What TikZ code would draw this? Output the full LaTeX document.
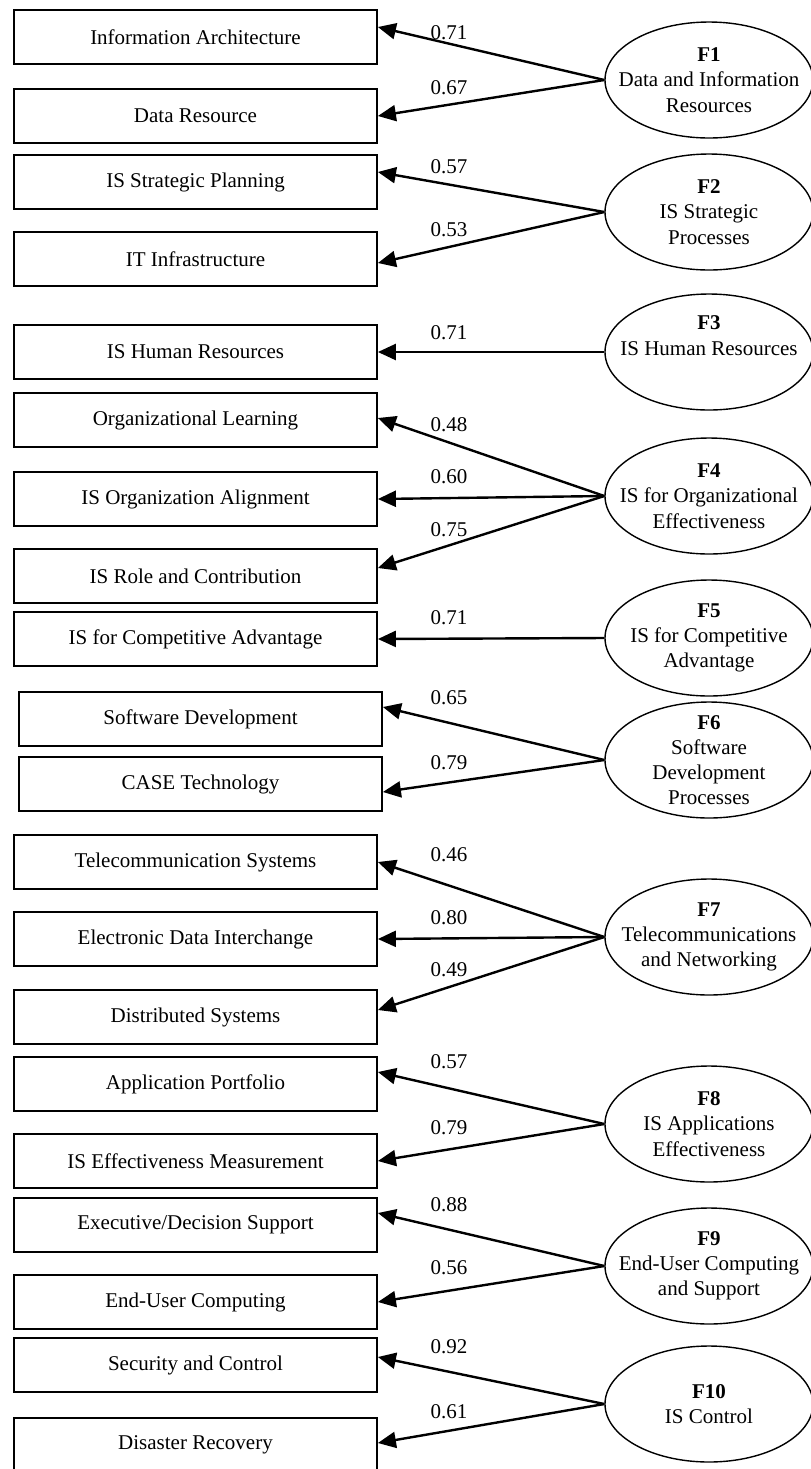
\documentclass[tikz,border=0pt]{standalone}
\usepackage{fontspec}
\setmainfont{Liberation Serif}
\usetikzlibrary{arrows.meta,shapes.geometric}

\tikzset{
  every node/.style={font=\fontsize{10.5}{12.6}\selectfont},
  indicator/.style={draw,line width=0.9pt,minimum width=181.5pt,minimum height=27pt,inner sep=0pt},
  factor/.style={draw,ellipse,line width=0.7pt,minimum width=104pt,minimum height=58pt,
    inner xsep=-12pt,inner ysep=-10pt,align=center},
  loading/.style={inner sep=0pt},
  loadarrow/.style={-{Triangle[length=9pt,width=8pt]},line width=1.2pt}
}

\begin{document}
\begin{tikzpicture}[x=0.5pt,y=-0.5pt]
    \useasboundingbox (0,0) rectangle (810,1469);
    % observed variables
    \node[indicator] (ia)  at (195.5,37)   {Information Architecture};
    \node[indicator] (dr)  at (195.5,116)  {Data Resource};
    \node[indicator] (isp) at (195.5,182)  {IS Strategic Planning};
    \node[indicator] (iti) at (195.5,259)  {IT Infrastructure};
    \node[indicator] (ihr) at (195.5,352)  {IS Human Resources};
    \node[indicator] (ol)  at (195.5,420)  {Organizational Learning};
    \node[indicator] (ioa) at (195.5,499)  {IS Organization Alignment};
    \node[indicator] (irc) at (195.5,576)  {IS Role and Contribution};
    \node[indicator] (ica) at (195.5,639)  {IS for Competitive Advantage};
    \node[indicator] (sd)  at (200.5,719)  {Software Development};
    \node[indicator] (ct)  at (200.5,784)  {CASE Technology};
    \node[indicator] (ts)  at (195.5,862)  {Telecommunication Systems};
    \node[indicator] (edi) at (195.5,939)  {Electronic Data Interchange};
    \node[indicator] (ds)  at (195.5,1017) {Distributed Systems};
    \node[indicator] (ap)  at (195.5,1084) {Application Portfolio};
    \node[indicator] (iem) at (195.5,1161) {IS Effectiveness Measurement};
    \node[indicator] (eds) at (195.5,1225) {Executive/Decision Support};
    \node[indicator] (euc) at (195.5,1302) {End-User Computing};
    \node[indicator] (sc)  at (195.5,1365) {Security and Control};
    \node[indicator] (dre) at (195.5,1445) {Disaster Recovery};

    % factors
    \node[factor] (F1)  at (709,80)   {\textbf{F1}\\Data and Information\\Resources};
    \node[factor] (F2)  at (709,212)  {\textbf{F2}\\IS Strategic\\Processes};
    \node[factor] (F3)  at (709,352)  {\textbf{F3}\\IS Human Resources\\ \strut};
    \node[factor] (F4)  at (709,496)  {\textbf{F4}\\IS for Organizational\\Effectiveness};
    \node[factor] (F5)  at (709,638)  {\textbf{F5}\\IS for Competitive\\Advantage};
    \node[factor] (F6)  at (709,760)  {\textbf{F6}\\Software\\Development\\Processes};
    \node[factor] (F7)  at (709,937)  {\textbf{F7}\\Telecommunications\\and Networking};
    \node[factor] (F8)  at (709,1124) {\textbf{F8}\\IS Applications\\Effectiveness};
    \node[factor] (F9)  at (709,1266) {\textbf{F9}\\End-User Computing\\and Support};
    \node[factor] (F10) at (709,1404) {\textbf{F10}\\IS Control};

    % loadings
    \node[loading] (w1a)  at (449,33)   {0.71};
    \node[loading] (w1b)  at (449,88)   {0.67};
    \node[loading] (w2a)  at (449,167)  {0.57};
    \node[loading] (w2b)  at (449,230)  {0.53};
    \node[loading] (w3a)  at (449,333)  {0.71};
    \node[loading] (w4a)  at (449,425)  {0.48};
    \node[loading] (w4b)  at (449,477)  {0.60};
    \node[loading] (w4c)  at (449,530)  {0.75};
    \node[loading] (w5a)  at (449,618)  {0.71};
    \node[loading] (w6a)  at (449,698)  {0.65};
    \node[loading] (w6b)  at (449,763)  {0.79};
    \node[loading] (w7a)  at (449,855)  {0.46};
    \node[loading] (w7b)  at (449,918)  {0.80};
    \node[loading] (w7c)  at (449,970)  {0.49};
    \node[loading] (w8a)  at (449,1062) {0.57};
    \node[loading] (w8b)  at (449,1128) {0.79};
    \node[loading] (w9a)  at (449,1205) {0.88};
    \node[loading] (w9b)  at (449,1268) {0.56};
    \node[loading] (w10a) at (449,1347) {0.92};
    \node[loading] (w10b) at (449,1412) {0.61};

    % arrows
    \draw[loadarrow] (F1.west) -- ([yshift=5pt]ia.east);
    \draw[loadarrow] (F1.west) -- (dr.east);
    \draw[loadarrow] (F2.west) -- ([yshift=5pt]isp.east);
    \draw[loadarrow] (F2.west) -- ([yshift=-2pt]iti.east);
    \draw[loadarrow] (F3.west) -- (ihr.east);
    \draw[loadarrow] (F4.west) -- ([yshift=1pt]ol.east);
    \draw[loadarrow] (F4.west) -- (ioa.east);
    \draw[loadarrow] (F4.west) -- ([yshift=4pt]irc.east);
    \draw[loadarrow] (F5.west) -- (ica.east);
    \draw[loadarrow] (F6.west) -- ([yshift=6pt]sd.east);
    \draw[loadarrow] (F6.west) -- ([yshift=-4pt]ct.east);
    \draw[loadarrow] (F7.west) -- (ts.east);
    \draw[loadarrow] (F7.west) -- (edi.east);
    \draw[loadarrow] (F7.west) -- ([yshift=3.5pt]ds.east);
    \draw[loadarrow] (F8.west) -- ([yshift=6pt]ap.east);
    \draw[loadarrow] (F8.west) -- (iem.east);
    \draw[loadarrow] (F9.west) -- ([yshift=6pt]eds.east);
    \draw[loadarrow] (F9.west) -- (euc.east);
    \draw[loadarrow] (F10.west) -- ([yshift=4pt]sc.east);
    \draw[loadarrow] (F10.west) -- ([yshift=1pt]dre.east);
\end{tikzpicture}
\end{document}
